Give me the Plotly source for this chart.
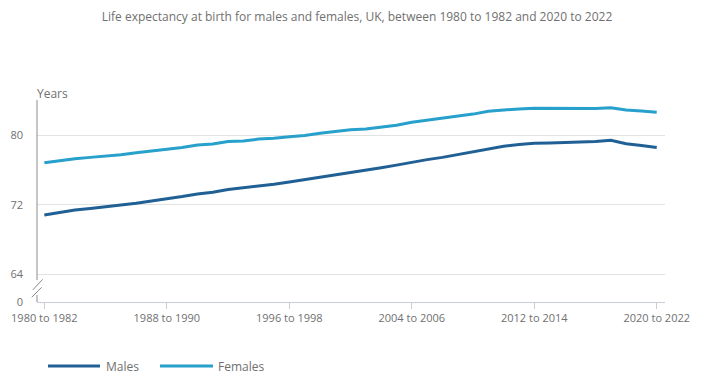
import plotly.graph_objects as go

# ---- data ----
start_years = list(range(1980, 2021))
periods = [f"{y} to {y + 2}" for y in start_years]

males = [70.81, 71.10, 71.38, 71.57, 71.74, 71.93, 72.16, 72.42, 72.66, 72.93,
         73.23, 73.43, 73.74, 73.92, 74.17, 74.35, 74.60, 74.86, 75.13, 75.41,
         75.70, 75.96, 76.23, 76.54, 76.89, 77.17, 77.43, 77.74, 78.08, 78.44,
         78.72, 78.91, 79.06, 79.09, 79.15, 79.16, 79.25, 79.40, 79.00, 78.80,
         78.57]
females = [76.80, 77.04, 77.28, 77.43, 77.58, 77.72, 77.97, 78.14, 78.33, 78.56,
           78.84, 78.97, 79.26, 79.32, 79.53, 79.62, 79.80, 79.95, 80.20, 80.43,
           80.59, 80.70, 80.91, 81.13, 81.47, 81.71, 81.89, 82.13, 82.40, 82.72,
           82.88, 83.00, 83.08, 83.05, 83.07, 83.07, 83.03, 83.13, 82.88, 82.76,
           82.60]

x_tick_labels = ["1980 to 1982", "1988 to 1990", "1996 to 1998",
                 "2004 to 2006", "2012 to 2014", "2020 to 2022"]
y_tick_labels = ["0", "64", "72", "80"]
y_tick_values = [64, 72, 80]

title_text = "Life expectancy at birth for males and females, UK, between 1980 to 1982 and 2020 to 2022"
series_names = ["Males", "Females"]

# ---- style ----
MALE_C = "#206095"
FEMALE_C = "#27a0cc"
TXT = "#707070"
FONT = "Open Sans"

OFF = 8  # page body margin
W, H = 706 - OFF, 381 - OFF
ML, MR, MT, MB = 37 - OFF, 41, 100 - OFF, 79
PW, PH = W - ML - MR, H - MT - MB

Y_MIN, Y_MAX = 60.82, 84.02

def px_x(px):
    # page pixel -> paper x
    return (px - OFF - ML) / PW

def px_y(py):
    # page pixel -> paper y
    return (H - MB - (py - OFF)) / PH

fig = go.Figure()
fig.add_trace(go.Scatter(x=periods, y=males, name=series_names[0], mode="lines",
                         line=dict(color=MALE_C, width=3), showlegend=False))
fig.add_trace(go.Scatter(x=periods, y=females, name=series_names[1], mode="lines",
                         line=dict(color=FEMALE_C, width=3), showlegend=False))

shapes = []
# broken y-axis line
axis_c = "#8c8c8c"
shapes.append(dict(type="line", xref="paper", yref="paper", x0=0, x1=0,
                   y0=px_y(280), y1=1, line=dict(color=axis_c, width=1)))
shapes.append(dict(type="line", xref="paper", yref="paper", x0=0, x1=0,
                   y0=0, y1=px_y(295), line=dict(color=axis_c, width=1)))
for (a, b) in [((32.7, 290), (42.7, 279.3)), ((31.7, 297.3), (41.7, 287.3))]:
    shapes.append(dict(type="line", xref="paper", yref="paper",
                       x0=px_x(a[0]), y0=px_y(a[1]), x1=px_x(b[0]), y1=px_y(b[1]),
                       line=dict(color=axis_c, width=1)))

# custom legend
annotations = []
leg_y = px_y(366)
for name, col, x0, x1, tx in [(series_names[0], MALE_C, 48, 100, 104),
                               (series_names[1], FEMALE_C, 160, 213, 216)]:
    shapes.append(dict(type="line", xref="paper", yref="paper",
                       x0=px_x(x0), x1=px_x(x1), y0=leg_y, y1=leg_y,
                       line=dict(color=col, width=3)))
    annotations.append(dict(text=name, xref="paper", yref="paper",
                            x=px_x(tx), y=leg_y, xanchor="left", yanchor="middle",
                            showarrow=False, font=dict(family=FONT, size=12, color=TXT)))

annotations.append(dict(text="Years", xref="paper", yref="paper",
                        x=px_x(35), y=px_y(93), xanchor="left", yanchor="middle",
                        showarrow=False, font=dict(family=FONT, size=12, color=TXT)))

fig.update_layout(
    width=W, height=H,
    margin=dict(l=ML, r=MR, t=MT, b=MB, autoexpand=False),
    paper_bgcolor="white", plot_bgcolor="white",
    title=dict(text=title_text, x=0.5, xanchor="center", y=1 - (16.5 - OFF) / H, yanchor="middle",
               font=dict(family=FONT, size=12, color=TXT)),
    font=dict(family=FONT, size=11, color=TXT),
    shapes=shapes, annotations=annotations,
    showlegend=False,
)

fig.update_xaxes(
    type="category", range=[-0.48, len(periods) - 1 + 0.54],
    tickmode="array", tickvals=x_tick_labels, ticktext=x_tick_labels,
    showgrid=False, showline=True, linecolor="#c9ced6", linewidth=1,
    ticks="outside", ticklen=6, tickcolor="#c9ced6", tickwidth=1,
    tickfont=dict(family=FONT, size=11, color=TXT), tickangle=0,
    zeroline=False, automargin=False,
)
fig.update_yaxes(
    range=[Y_MIN, Y_MAX],
    tickmode="array", tickvals=[Y_MIN] + y_tick_values, ticktext=y_tick_labels,
    showgrid=True, gridcolor="#e2e2e2", gridwidth=1,
    showline=False, ticks="", ticklabelstandoff=13,
    tickfont=dict(family=FONT, size=11, color=TXT),
    zeroline=False, automargin=False,
)

fig.write_html("out.html")
